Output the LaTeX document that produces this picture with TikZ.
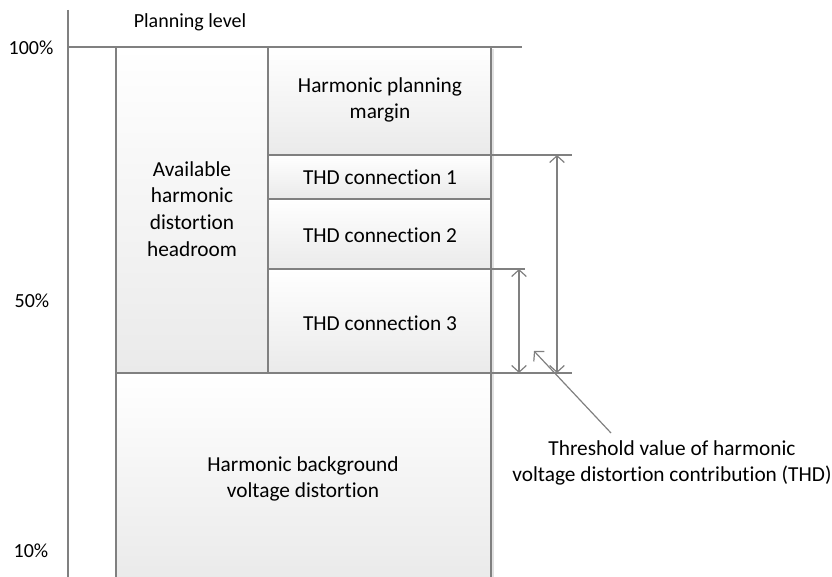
\documentclass[tikz,border=0pt]{standalone}
\usepackage{fontspec}
\setmainfont{Carlito}[Ligatures=NoCommon,RawFeature={-calt;-liga;-dlig}]
\usetikzlibrary{arrows.meta}
\definecolor{edgegray}{RGB}{128,128,128}
\definecolor{fillgray}{RGB}{234,234,234}
\definecolor{shadowgray}{RGB}{225,225,225}

\begin{document}
\begin{tikzpicture}[x=0.75pt,y=0.75pt,yscale=-1,xscale=1,
  line/.style={draw=edgegray,line width=0.9pt},
  boxshade/.style={line,top color=white,bottom color=fillgray},
  dimarrow/.style={line,{Straight Barb[length=5pt,width=11pt]}-{Straight Barb[length=5pt,width=11pt]}},
  boxtext/.style={font=\fontsize{16}{20}\selectfont,align=center,inner sep=0.75pt},
  axistext/.style={font=\fontsize{15}{17}\selectfont,inner sep=0.75pt}]
\useasboundingbox (0,0) rectangle (832,577);
%Straight Lines: axis
\draw[line] (68,10) -- (68,577) ;
\draw[line] (68,47) -- (522,47) ;
%Shape: Rectangle: headroom
\draw[boxshade] (116,47) rectangle (268,373) ;
%Shape: Rectangle: planning margin
\draw[boxshade] (268,47) rectangle (491,155) ;
%Shape: Rectangle: THD 1..3
\draw[boxshade] (268,155) rectangle (491,199) ;
\draw[boxshade] (268,199) rectangle (491,269) ;
\draw[boxshade] (268,269) rectangle (491,373) ;
%Shape: Rectangle: background
\draw[boxshade] (116,373) rectangle (491,580) ;
%Straight Lines: shadows
\draw[shadowgray,line width=1.5pt] (493,49) -- (493,577) ;
%Straight Lines: extension lines
\draw[line] (491,155) -- (572,155) ;
\draw[line] (491,269) -- (525,269) ;
\draw[line] (491,373) -- (572,373) ;
%Coordinates
\coordinate (d1top) at (557,155) ;
\coordinate (d1bot) at (557,373) ;
\coordinate (d2top) at (519,269) ;
\coordinate (d2bot) at (519,373) ;
\coordinate (ptail) at (611,433) ;
\coordinate (phead) at (534,351) ;
%Straight Lines: dimension arrows
\draw[dimarrow] (d1top) -- (d1bot) ;
\draw[dimarrow] (d2top) -- (d2bot) ;
\draw[line,-{Straight Barb[length=5pt,width=11pt]}] (ptail) -- (phead) ;
% Text Node
\node[axistext] (plan) at (190,22) {Planning level};
% Text Node
\node[axistext] (p100) at (31,48) {100\%};
% Text Node
\node[axistext] (p50) at (32,301) {50\%};
% Text Node
\node[axistext] (p10) at (31,551) {10\%};
% Text Node
\node[boxtext] (avail) at (192,209) {Available\\harmonic\\distortion\\headroom};
% Text Node
\node[boxtext] (margin) at (380,100) {Harmonic planning\\margin};
% Text Node
\node[boxtext] (thd1) at (380,177) {THD connection 1};
% Text Node
\node[boxtext] (thd2) at (380,235) {THD connection 2};
% Text Node
\node[boxtext] (thd3) at (380,323) {THD connection 3};
% Text Node
\node[boxtext] (bg) at (303,479) {Harmonic background\\voltage distortion};
% Text Node
\node[boxtext] (thresh) at (672,463) {Threshold value of harmonic\\voltage distortion contribution (THD)};
\end{tikzpicture}
\end{document}
